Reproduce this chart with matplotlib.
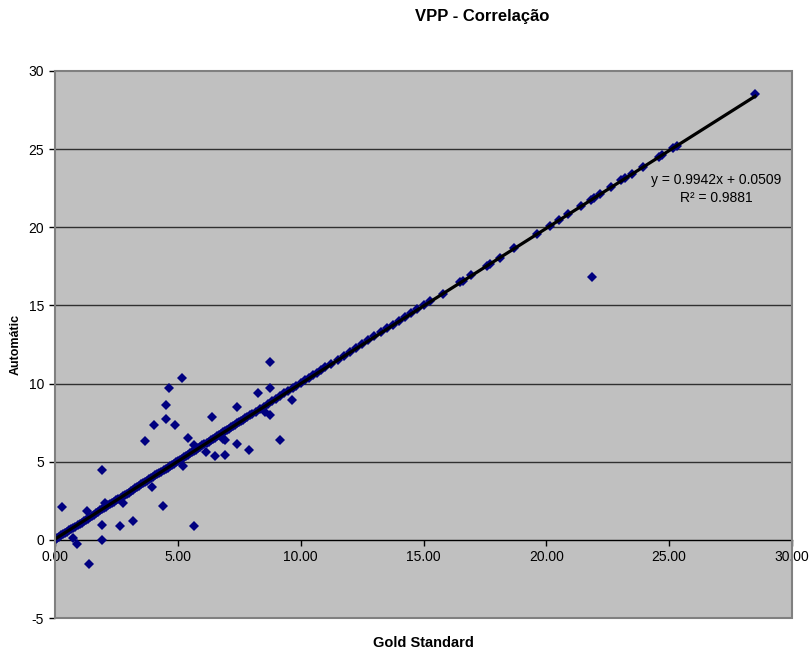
import numpy as np
import matplotlib
matplotlib.use('Agg')
import matplotlib.pyplot as plt
from matplotlib.patches import Rectangle

plt.rcParams['font.family'] = ['Liberation Sans', 'DejaVu Sans']
plt.rcParams['axes.unicode_minus'] = False

# pontos quase em cima da recta (0 - 15)
diag_x = [0.00, 0.10, 0.18, 0.25, 0.33, 0.41, 0.50, 0.58, 0.66, 0.75, 0.83, 0.92,
          1.00, 1.08, 1.17, 1.25, 1.33, 1.42, 1.50, 1.58, 1.67, 1.75, 1.83, 1.92,
          2.00, 2.08, 2.17, 2.25, 2.33, 2.42, 2.50, 2.58, 2.67, 2.75, 2.83, 2.92,
          3.00, 3.08, 3.17, 3.25, 3.33, 3.42, 3.50, 3.58, 3.67, 3.75, 3.83, 3.92,
          4.00, 4.08, 4.17, 4.25, 4.33, 4.42, 4.50, 4.58, 4.67, 4.75, 4.83, 4.92,
          5.00, 5.08, 5.17, 5.25, 5.33, 5.42, 5.50, 5.58, 5.67, 5.75, 5.83, 5.92,
          6.00, 6.08, 6.17, 6.25, 6.33, 6.42, 6.50, 6.58, 6.67, 6.75, 6.83, 6.92,
          7.00, 7.08, 7.17, 7.25, 7.33, 7.42, 7.50, 7.58, 7.67, 7.75, 7.83, 7.92,
          8.00, 8.17, 8.33, 8.50, 8.67, 8.83, 9.00, 9.17, 9.33, 9.50, 9.67, 9.83,
          10.00, 10.17, 10.33, 10.50, 10.67, 10.83, 11.00, 11.25, 11.50, 11.75,
          12.00, 12.25, 12.50, 12.75, 13.00, 13.25, 13.50, 13.75, 14.00, 14.25,
          14.50, 14.75, 15.00, 15.25]
diag_y = [0.02, 0.15, 0.20, 0.31, 0.36, 0.45, 0.52, 0.60, 0.70, 0.78, 0.85, 0.95,
          1.03, 1.10, 1.19, 1.27, 1.36, 1.45, 1.52, 1.62, 1.70, 1.78, 1.88, 1.95,
          2.04, 2.12, 2.20, 2.28, 2.37, 2.45, 2.55, 2.62, 2.70, 2.79, 2.88, 2.95,
          3.03, 3.12, 3.20, 3.30, 3.36, 3.45, 3.55, 3.62, 3.70, 3.78, 3.88, 3.95,
          4.04, 4.12, 4.20, 4.30, 4.36, 4.45, 4.53, 4.62, 4.70, 4.78, 4.88, 4.95,
          5.02, 5.12, 5.20, 5.28, 5.37, 5.45, 5.53, 5.62, 5.70, 5.78, 5.88, 5.95,
          6.04, 6.12, 6.20, 6.28, 6.37, 6.45, 6.53, 6.62, 6.70, 6.79, 6.87, 6.96,
          7.03, 7.12, 7.20, 7.28, 7.37, 7.45, 7.53, 7.62, 7.70, 7.79, 7.87, 7.96,
          8.03, 8.20, 8.37, 8.53, 8.70, 8.87, 9.03, 9.20, 9.37, 9.53, 9.70, 9.87,
          10.04, 10.20, 10.37, 10.53, 10.70, 10.87, 11.03, 11.28, 11.53, 11.78,
          12.03, 12.27, 12.53, 12.78, 13.02, 13.28, 13.53, 13.77, 14.03, 14.27,
          14.53, 14.77, 15.02, 15.27]

# valores mais altos, mais espalhados
alto_x = [15.80, 16.50, 16.60, 16.95, 17.57, 17.70, 18.10, 18.70, 19.60, 20.15,
          20.50, 20.90, 21.40, 21.80, 21.95, 22.20, 22.65, 23.05, 23.20, 23.50,
          23.95, 24.60, 24.70, 25.15, 25.30, 28.50]
alto_y = [15.76, 16.47, 16.55, 16.93, 17.53, 17.66, 18.06, 18.66, 19.55, 20.10,
          20.44, 20.86, 21.35, 21.74, 21.90, 22.15, 22.58, 23.00, 23.14, 23.42,
          23.88, 24.52, 24.62, 25.06, 25.22, 28.55]

# pontos fora da recta
fora_x = [0.28, 1.90, 1.29, 2.03, 1.90, 1.90, 1.40, 0.74, 0.91, 2.64,
          3.16, 2.78, 4.40, 3.93, 5.66, 3.66, 4.02, 4.53, 4.53, 4.65,
          5.16, 4.90, 5.41, 5.66, 6.14, 6.41, 6.53, 6.91, 6.91, 7.41,
          7.41, 7.89, 8.28, 8.77, 8.77, 8.77, 9.15, 9.65, 5.19, 21.87,
          8.55, 6.85]
fora_y = [2.10, 4.45, 1.87, 2.38, 0.94, -0.04, -1.53, 0.15, -0.26, 0.89,
          1.19, 2.34, 2.19, 3.41, 0.87, 6.34, 7.38, 7.74, 8.63, 9.72,
          10.35, 7.38, 6.50, 6.10, 5.62, 7.87, 5.38, 6.38, 5.40, 8.50,
          6.12, 5.74, 9.40, 11.35, 9.74, 7.98, 6.38, 8.98, 4.72, 16.80,
          8.17, 6.46]

# recta de tendencia
slope = 0.9942
intercept = 0.0509
r2 = 0.9881

xs = np.array(diag_x + alto_x + fora_x)
ys = np.array(diag_y + alto_y + fora_y)

fig = plt.figure(figsize=(8.11, 6.52), dpi=100)
ax = fig.add_axes([55 / 811, 1 - 618 / 652, (792 - 55) / 811, (618 - 71) / 652])
ax.set_facecolor('#C0C0C0')

ax.set_xlim(0, 30)
ax.set_ylim(-5, 30)

for yy in [5, 10, 15, 20, 25]:
    ax.axhline(yy, color='#303030', lw=1.0, zorder=1)

ax.plot(xs, ys, 'D', color='#000080', markersize=5.0, markeredgewidth=0, zorder=3)

tx = np.array([0, xs.max()])
ax.plot(tx, slope * tx + intercept, color='black', lw=2.3, zorder=4)

ax.text(26.9, 23.0, 'y = %.4fx + %.4f' % (slope, intercept), fontsize=10,
        ha='center', va='center', zorder=5)
ax.text(26.9, 21.9, 'R² = %.4f' % r2, fontsize=10, ha='center', va='center', zorder=5)

# eixos estilo Excel
for s in ['top', 'right']:
    ax.spines[s].set_visible(False)
ax.spines['left'].set_color('#808080')
ax.spines['left'].set_linewidth(1.2)
ax.spines['bottom'].set_position(('data', 0))
ax.spines['bottom'].set_color('black')
ax.spines['bottom'].set_linewidth(1.0)
ax.add_patch(Rectangle((0, 0), 1, 1, transform=ax.transAxes, fill=False,
                       edgecolor='#808080', lw=1.5, clip_on=False, zorder=6))

ax.set_xticks([0, 5, 10, 15, 20, 25, 30])
ax.set_xticklabels(['%.2f' % v for v in [0, 5, 10, 15, 20, 25, 30]])
ax.set_yticks([-5, 0, 5, 10, 15, 20, 25, 30])
ax.tick_params(axis='both', labelsize=10, direction='out', length=4, width=1)
ax.tick_params(axis='y', colors='black', pad=4)
ax.tick_params(axis='x', pad=3)

fig.text(482 / 811, 1 - 17 / 652, 'VPP - Correlação', fontsize=12, fontweight='bold',
         ha='center', va='center')
fig.text(423 / 811, 1 - 643 / 652, 'Gold Standard', fontsize=10.5, fontweight='bold',
         ha='center', va='center')
fig.text(16 / 811, 1 - 344 / 652, 'Automátic', fontsize=9, fontweight='bold',
         ha='center', va='center', rotation=90)

fig.savefig('out.png', dpi=100)
